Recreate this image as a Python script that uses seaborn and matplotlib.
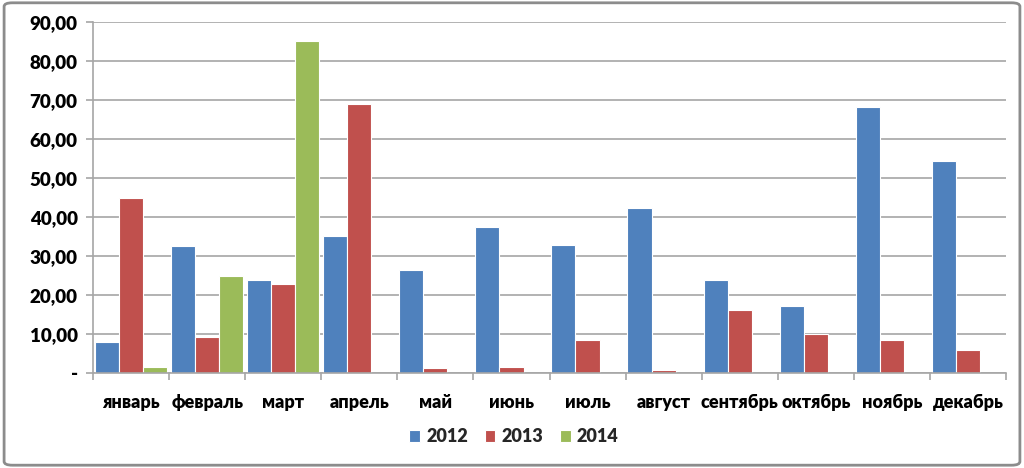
import numpy as np
import pandas as pd
import matplotlib
matplotlib.use("Agg")
import matplotlib.pyplot as plt
import seaborn as sns
from matplotlib.patches import FancyBboxPatch
from matplotlib.ticker import FixedLocator, FuncFormatter

months = ["январь", "февраль", "март", "апрель", "май", "июнь", "июль",
          "август", "сентябрь", "октябрь", "ноябрь", "декабрь"]
years = ["2012", "2013", "2014"]
v2012 = [7.9, 32.5, 23.8, 35.1, 26.4, 37.5, 32.8, 42.2, 23.8, 17.2, 68.2, 54.3]
v2013 = [44.9, 9.3, 22.9, 68.9, 1.2, 1.5, 8.4, 0.8, 16.2, 10.1, 8.4, 5.8]
v2014 = [1.5, 25.0, 85.2, np.nan, np.nan, np.nan, np.nan, np.nan, np.nan, np.nan, np.nan, np.nan]
colors = ["#4F81BD", "#C0504D", "#9BBB59"]

df = pd.DataFrame({
    "month": months * 3,
    "year": [years[0]] * 12 + [years[1]] * 12 + [years[2]] * 12,
    "value": v2012 + v2013 + v2014,
})

sns.set_theme(style="white")
plt.rcParams["font.family"] = ["Lato", "Open Sans", "DejaVu Sans"]
W = "heavy"

fig = plt.figure(figsize=(10.24, 4.68), dpi=100)
ax = fig.add_axes([93 / 1024, 95 / 468, 913 / 1024, 351 / 468])

sns.barplot(data=df, x="month", y="value", hue="year", order=months,
            hue_order=years, palette=colors, width=0.95, saturation=1,
            edgecolor="white", linewidth=0.8, errorbar=None, ax=ax,
            legend=True)

ax.set_ylim(0, 90)
ax.set_xlim(-0.5, 11.5)
ax.yaxis.set_major_locator(FixedLocator(np.arange(0, 91, 10)))
ax.yaxis.set_major_formatter(FuncFormatter(
    lambda v, p: "-" if v == 0 else f"{v:.2f}".replace(".", ",")))
ax.grid(axis="y", color="#A6A6A6", linewidth=1.2)
ax.set_axisbelow(True)
for s in ["top", "right"]:
    ax.spines[s].set_visible(False)
ax.spines["left"].set_color("#A6A6A6")
ax.spines["bottom"].set_color("#A6A6A6")
ax.spines["left"].set_linewidth(1.2)
ax.spines["bottom"].set_linewidth(1.2)
ax.tick_params(axis="y", left=True, length=5, color="#A6A6A6", width=1.2,
               pad=6, labelsize=13.5)
ax.tick_params(axis="x", bottom=False, length=0, pad=15, labelsize=13)
ax.set_xticks(np.arange(-0.5, 12, 1), minor=True)
ax.tick_params(axis="x", which="minor", bottom=True, length=5,
               color="#A6A6A6", width=1.2)
for lab in ax.get_xticklabels() + ax.get_yticklabels():
    lab.set_fontweight(W)
    lab.set_color("black")
ax.set_xlabel("")
ax.set_ylabel("")

handles, labels = ax.get_legend_handles_labels()
ax.get_legend().remove()
fig.legend(handles, labels, loc="center", bbox_to_anchor=(0.502, 1 - 437 / 468),
           ncol=3, frameon=False, handlelength=0.6, handleheight=0.6,
           handletextpad=0.35, columnspacing=0.9,
           prop={"weight": W, "size": 13})

border = FancyBboxPatch((0.004, 0.006), 0.992, 0.988,
                        boxstyle="round,pad=0,rounding_size=0.008",
                        transform=fig.transFigure, fill=False,
                        edgecolor="#8C8C8C", linewidth=2)
fig.patches.append(border)

fig.savefig("out.png", dpi=100)
